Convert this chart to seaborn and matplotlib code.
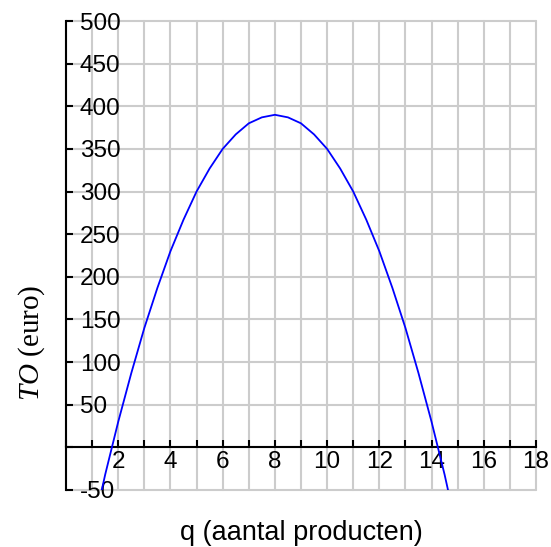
import matplotlib
matplotlib.use('Agg')
import matplotlib.pyplot as plt
import seaborn as sns

# waarden (TO in euro, q in aantal producten)
q = [1.37, 1.5, 2, 2.5, 3, 3.5, 4, 4.5, 5, 5.5, 6, 6.5, 7, 7.5, 8,
     8.5, 9, 9.5, 10, 10.5, 11, 11.5, 12, 12.5, 13, 13.5, 14, 14.5, 14.63]
to = [-50, -32, 30, 87, 140, 187, 230, 267, 300, 327, 350, 367, 380, 387, 390,
      387, 380, 367, 350, 327, 300, 267, 230, 187, 140, 87, 30, -32, -50]

x_ticks = list(range(0, 19))
x_labels = ['', '', '2', '', '4', '', '6', '', '8', '', '10', '', '12', '', '14', '', '16', '', '18']
y_ticks = list(range(-50, 501, 50))
y_labels = ['-50', '', '50', '100', '150', '200', '250', '300', '350', '400', '450', '500']


def main():
    sns.set_style('white')
    plt.rcParams['font.family'] = ['Liberation Sans', 'DejaVu Sans']
    plt.rcParams['mathtext.fontset'] = 'custom'
    plt.rcParams['mathtext.it'] = 'Liberation Serif:italic'
    plt.rcParams['mathtext.rm'] = 'Liberation Serif'
    plt.rcParams['text.color'] = 'black'
    plt.rcParams['axes.labelcolor'] = 'black'
    plt.rcParams['xtick.color'] = 'black'
    plt.rcParams['ytick.color'] = 'black'

    fig = plt.figure(figsize=(5.51, 5.47), dpi=100)
    ax = fig.add_axes([66 / 551, 57 / 547, 470 / 551, 469 / 547])

    # de parabool
    sns.lineplot(x=q, y=to, sort=False, color='#0000ff', linewidth=1.3, ax=ax, zorder=3)

    ax.set_xlim(0, 18)
    ax.set_ylim(-50, 500)

    # assen door de oorsprong
    ax.spines['bottom'].set_position(('data', 0))
    ax.spines['top'].set_visible(False)
    ax.spines['right'].set_visible(False)
    for side in ['left', 'bottom']:
        ax.spines[side].set_color('black')
        ax.spines[side].set_linewidth(1.5)

    ax.set_xticks(x_ticks)
    ax.set_xticklabels(x_labels)
    ax.set_yticks(y_ticks)
    ax.set_yticklabels(y_labels)

    ax.tick_params(axis='x', bottom=True, direction='in', length=5, width=1.5,
                   color='black', labelcolor='black', labelsize=17.5, pad=2.5)
    ax.tick_params(axis='y', left=True, direction='in', length=5, width=1.5,
                   color='black', labelcolor='black', labelsize=17.5, pad=-10)
    for label in ax.get_yticklabels():
        label.set_horizontalalignment('left')

    ax.grid(True, color='#cccccc', linewidth=1.5)
    for line in ax.get_xgridlines() + ax.get_ygridlines():
        line.set_clip_on(False)

    ax.set_xlabel('q (aantal producten)', fontsize=19.5, color='black')
    ax.xaxis.set_label_coords(0.5, -0.064)
    ax.set_ylabel(r'$TO$ (euro)', fontfamily='Liberation Serif', fontsize=21, color='black')
    ax.yaxis.set_label_coords(-0.040, 0.313)

    fig.savefig('out.png', dpi=100)


if __name__ == '__main__':
    main()
